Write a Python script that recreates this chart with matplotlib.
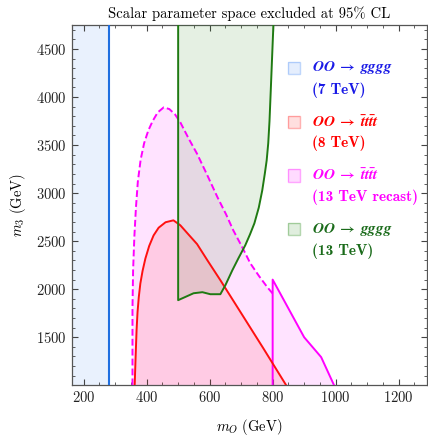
import matplotlib
matplotlib.use('Agg')
import matplotlib.pyplot as plt
from matplotlib.patches import Rectangle
from matplotlib.ticker import MultipleLocator

plt.rcParams['font.family'] = 'serif'
plt.rcParams['font.serif'] = ['cmr10', 'DejaVu Serif']
plt.rcParams['axes.formatter.use_mathtext'] = True
plt.rcParams['mathtext.fontset'] = 'cm'
# custom math font is only used for the legend entries (bold italic)
plt.rcParams['mathtext.it'] = 'STIXGeneral:italic:bold'
plt.rcParams['mathtext.rm'] = 'STIXGeneral:bold'
plt.rcParams['mathtext.bf'] = 'STIXGeneral:bold'

# ---- data (GeV) ----
blue_edge = 280  # 7 TeV gggg excludes m_O below this

mag_x = [355, 355, 357, 361, 366, 372, 381, 392, 405, 419, 435, 454, 472, 490, 507, 533,
         560, 592, 625, 652, 675, 703, 729, 756, 783, 800]
mag_y = [1000, 1800, 2200, 2550, 2850, 3120, 3350, 3520, 3650, 3750, 3840, 3892, 3875, 3820,
         3736, 3570, 3410, 3190, 2956, 2780, 2613, 2440, 2270, 2140, 2021, 1955]
mag_solid_x = [800, 800, 900, 954, 995]
mag_solid_y = [1000, 2100, 1500, 1293, 1000]

red_x = [362, 365, 368, 371, 375, 380, 387, 396, 408, 422, 438, 460, 485, 507, 530, 560, 593,
         634, 700, 770, 843]
red_y = [1000, 1300, 1574, 1760, 1917, 2060, 2190, 2320, 2450, 2560, 2640, 2697, 2717, 2665,
         2580, 2470, 2300, 2094, 1751, 1387, 1000]

green_x = [500, 500, 549, 577, 602, 634, 650, 672, 691, 713, 728, 742, 756, 767, 775, 781,
           786, 790, 794, 803]
green_y = [4800, 1886, 1958, 1969, 1948, 1948, 2042, 2197, 2320, 2457, 2570, 2686, 2850,
           3029, 3200, 3340, 3520, 3750, 4069, 4800]

labels_top = [r'$OO\;\to\;gggg$', r'$OO\;\to\;\bar{t}t\bar{t}t$',
              r'$OO\;\to\;\bar{t}t\bar{t}t$', r'$OO\;\to\;gggg$']
labels_bot = ['(7 TeV)', '(8 TeV)', '(13 TeV recast)', '(13 TeV)']

c_blue_line = '#1f6fe0'
c_red = '#ff1010'
c_mag = '#ff00ff'
c_green = '#1f7a12'
text_colors = ['#1a1ae6', '#ff0000', '#ff00ff', '#1a6b1a']
patch_colors = ['#4a8cf5', '#ff2020', '#ff00ff', '#2a8a1a']

xlim = (163, 1290)
ylim = (1003, 4750)

fig = plt.figure(figsize=(4.28, 4.38), dpi=100)
ax = fig.add_axes([72 / 428, 1 - 385 / 438, 355 / 428, 360 / 438])

# blue band (7 TeV)
ax.axvspan(xlim[0] - 50, blue_edge, color='#4a8cf5', alpha=0.12, lw=0, zorder=1)
ax.axvline(blue_edge, color=c_blue_line, lw=1.5, zorder=5)

# magenta (13 TeV recast)
ax.fill(mag_x + mag_solid_x[1:], mag_y + mag_solid_y[1:], color=c_mag, alpha=0.11, lw=0, zorder=1)
ax.plot(mag_x, mag_y, color=c_mag, lw=1.4, ls=(0, (3.5, 1.6)), zorder=5)
ax.plot(mag_solid_x, mag_solid_y, color=c_mag, lw=1.4, zorder=5)

# red (8 TeV)
ax.fill(red_x, red_y, color=c_red, alpha=0.11, lw=0, zorder=2)
ax.plot(red_x, red_y, color=c_red, lw=1.4, zorder=5)

# green (13 TeV gggg)
ax.fill(green_x, green_y, color='#2a8a1a', alpha=0.12, lw=0, zorder=3)
ax.plot(green_x, green_y, color=c_green, lw=1.4, zorder=5)

ax.set_xlim(*xlim)
ax.set_ylim(*ylim)
ax.xaxis.set_major_locator(MultipleLocator(200))
ax.xaxis.set_minor_locator(MultipleLocator(50))
ax.yaxis.set_major_locator(MultipleLocator(500))
ax.yaxis.set_minor_locator(MultipleLocator(100))
ax.tick_params(which='both', direction='in', top=True, right=True, color='#444444',
               labelsize=10.5, labelcolor='#222222')
ax.tick_params(which='major', length=4.5, width=0.8)
ax.tick_params(which='minor', length=2.5, width=0.6)
for s in ax.spines.values():
    s.set_color('#555555')
    s.set_linewidth(0.9)

ax.set_xlabel(r'$m_O\ (\mathrm{GeV})$', fontsize=10.5, labelpad=9)
ax.set_ylabel(r'$m_3\ (\mathrm{GeV})$', fontsize=10.5, labelpad=6)
ax.set_title('Scalar parameter space excluded at 95% CL', fontsize=10.5, pad=5)

# legend drawn by hand so the swatch sits on the first line
y0 = 0.881
dy = 0.1495
for i in range(4):
    yy = y0 - i * dy
    ax.add_patch(Rectangle((0.608, yy - 0.017), 0.034, 0.034, transform=ax.transAxes,
                           facecolor=patch_colors[i], alpha=0.14, lw=0, zorder=6))
    ax.add_patch(Rectangle((0.608, yy - 0.017), 0.034, 0.034, transform=ax.transAxes,
                           facecolor='none', edgecolor=patch_colors[i], alpha=0.35, lw=1.0, zorder=6))
    ax.text(0.676, yy, labels_top[i], transform=ax.transAxes, color=text_colors[i],
            fontsize=11, va='center', ha='left', math_fontfamily='custom', zorder=7)
    ax.text(0.676, yy - 0.061, labels_bot[i], transform=ax.transAxes, color=text_colors[i],
            fontsize=11, va='center', ha='left', family='cmb10', zorder=7)

fig.savefig('out.png', dpi=100)
